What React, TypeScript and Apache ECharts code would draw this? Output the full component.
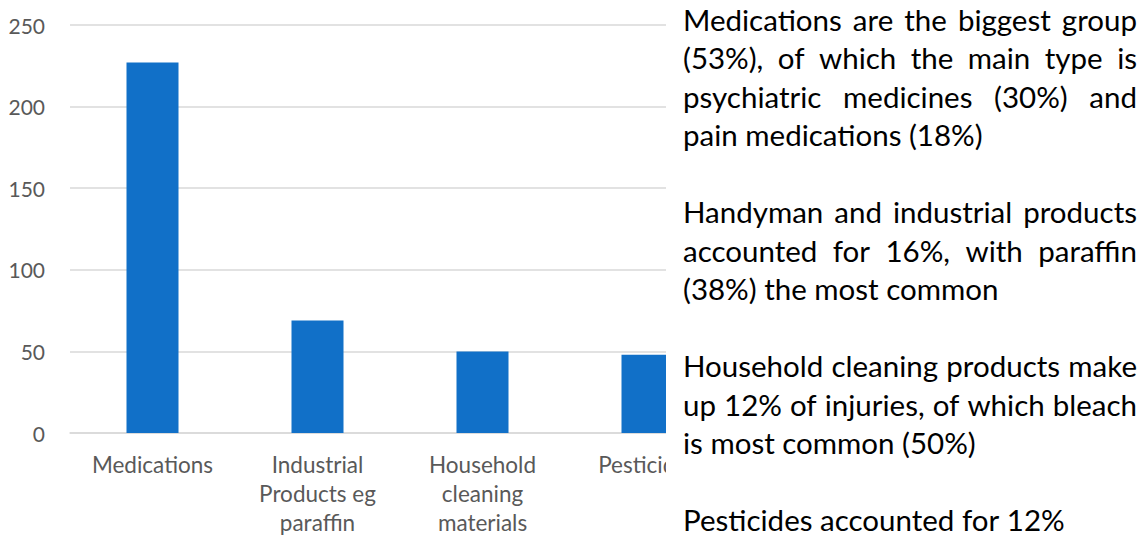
import React, { useEffect, useRef } from "react";
import * as echarts from "echarts";

const categories = [
  "Medications",
  "Industrial\nProducts eg\nparaffin",
  "Household\ncleaning\nmaterials",
  "Pesticides",
];
const values = [227, 69, 50, 48];
const yMin = 0;
const yMax = 250;
const yInterval = 50;

const paragraphs: string[][] = [
  [
    "Medications are the biggest group",
    "(53%), of which the main type is",
    "psychiatric medicines (30%) and",
    "pain medications (18%)",
  ],
  [
    "Handyman and industrial products",
    "accounted for 16%, with paraffin",
    "(38%) the most common",
  ],
  [
    "Household cleaning products make",
    "up 12% of injuries, of which bleach",
    "is most common (50%)",
  ],
  ["Pesticides accounted for 12%"],
];

const W = 1148;
const H = 538;
const TEXT_FONT_FAMILY = "Lato";
const TEXT_SIZE = 29.5;
const TEXT_LEFT = 683;
const TEXT_RIGHT = 1137;
const FIRST_CENTER = 19;
const LINE_STEP = 38.5;

function buildTextGraphics() {
  const canvas = document.createElement("canvas");
  const ctx = canvas.getContext("2d")!;
  const font = `${TEXT_SIZE}px ${TEXT_FONT_FAMILY}`;
  ctx.font = font;
  const spaceW = ctx.measureText(" ").width;
  const els: any[] = [];
  let lineIdx = 0;
  paragraphs.forEach((para) => {
    para.forEach((line, li) => {
      const y = FIRST_CENTER + lineIdx * LINE_STEP;
      const words = line.split(" ");
      const widths = words.map((w) => ctx.measureText(w).width);
      const total = widths.reduce((a, b) => a + b, 0);
      const justify = li < para.length - 1 && words.length > 1;
      const gap = justify ? (TEXT_RIGHT - TEXT_LEFT - total) / (words.length - 1) : spaceW;
      let x = TEXT_LEFT;
      words.forEach((w, wi) => {
        els.push({
          type: "text",
          x,
          y,
          z: 20,
          style: {
            text: w,
            fontFamily: TEXT_FONT_FAMILY,
            fontSize: TEXT_SIZE,
            fill: "#000000",
            verticalAlign: "middle",
            align: "left",
          },
        });
        x += widths[wi] + gap;
      });
      lineIdx++;
    });
    lineIdx++;
  });
  return els;
}

export default function App() {
  const ref = useRef<HTMLDivElement>(null);
  useEffect(() => {
    if (!ref.current) return;
    const chart = echarts.init(ref.current, undefined, { renderer: "svg" });
    const graphics: any[] = [
      {
        type: "rect",
        z: 10,
        shape: { x: 666, y: 0, width: W - 666, height: H },
        style: { fill: "#ffffff" },
      },
      ...buildTextGraphics(),
    ];
    chart.setOption({
      animation: false,
      backgroundColor: "#ffffff",
      grid: { left: 70, top: 25, width: 660, height: 408, containLabel: false },
      xAxis: {
        type: "category",
        data: categories,
        axisLine: { lineStyle: { color: "#d9d9d9", width: 1.5 } },
        axisTick: { show: false },
        axisLabel: {
          color: "#595959",
          fontFamily: "Lato",
          fontSize: 22.5,
          lineHeight: 29,
          margin: 17,
          interval: 0,
        },
      },
      yAxis: {
        type: "value",
        min: yMin,
        max: yMax,
        interval: yInterval,
        axisLine: { show: false },
        axisTick: { show: false },
        axisLabel: {
          color: "#595959",
          fontFamily: "Lato",
          fontSize: 21,
          margin: 25,
        },
        splitLine: { lineStyle: { color: "#d9d9d9", width: 1.5 } },
      },
      series: [
        {
          type: "bar",
          data: values,
          barWidth: 52,
          itemStyle: { color: "#1170c8" },
        },
      ],
      graphic: graphics,
    });
    return () => chart.dispose();
  }, []);
  return (
    <div style={{ position: "fixed", left: 0, top: 0, width: W, height: H, background: "#fff" }}>
      <div ref={ref} style={{ width: W, height: H }} />
    </div>
  );
}
